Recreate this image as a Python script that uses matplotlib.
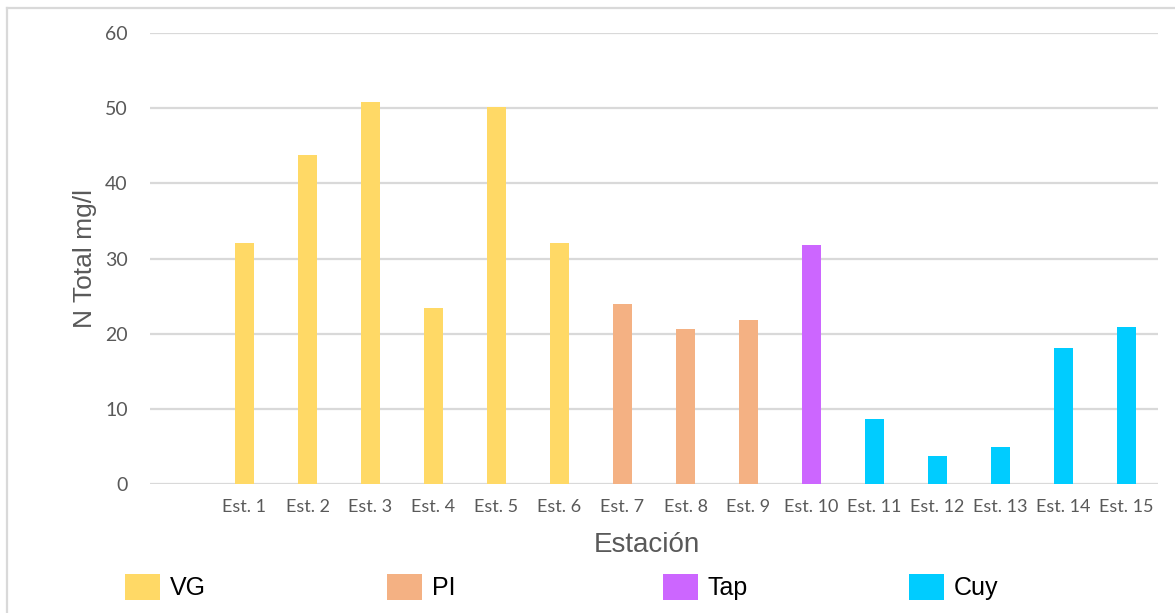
import numpy as np
import matplotlib

matplotlib.use("Agg")
import matplotlib.pyplot as plt
from matplotlib.patches import Patch
from matplotlib.lines import Line2D

# first category is an empty slot, as in the original sheet
estaciones = [""] + ["Est. %d" % i for i in range(1, 16)]
n_total = [np.nan, 32.0, 43.8, 50.8, 23.4, 50.1, 32.0, 23.9, 20.6, 21.8,
           31.8, 8.6, 3.7, 4.9, 18.1, 20.9]
grupo = [None, "VG", "VG", "VG", "VG", "VG", "VG", "PI", "PI", "PI",
         "Tap", "Cuy", "Cuy", "Cuy", "Cuy", "Cuy"]

grupos = ["VG", "PI", "Tap", "Cuy"]
colores = {"VG": "#FFD966", "PI": "#F4B183", "Tap": "#CC66FF", "Cuy": "#00CCFF"}

GRIS = "#595959"
GRID = "#D9D9D9"

fig = plt.figure(figsize=(11.75, 6.13), dpi=100)
W, H = 1175, 613
ax = fig.add_axes([150 / W, 129 / H, 1008 / W, 451 / H])

x = np.arange(len(estaciones))
for xi, v, g in zip(x, n_total, grupo):
    if g is None:
        continue
    ax.bar(xi, v, width=0.31, color=colores[g], zorder=3)

ax.set_xlim(-0.5, len(estaciones) - 0.5)
ax.set_ylim(0, 60)
ax.set_yticks(np.arange(0, 61, 10))
ax.set_xticks(x)
ax.set_xticklabels(estaciones, fontfamily="Lato", fontsize=13, color=GRIS)
ax.tick_params(axis="x", length=0, pad=11)
ax.tick_params(axis="y", length=0, pad=16, labelsize=14, labelcolor=GRIS)
for lbl in ax.get_yticklabels():
    lbl.set_fontfamily("Lato")

ax.grid(axis="y", color=GRID, linewidth=1.6, zorder=0)
for s in ax.spines.values():
    s.set_visible(False)

ax.set_ylabel("N Total mg/l", fontfamily="Liberation Sans", fontsize=19,
              color=GRIS)
ax.yaxis.set_label_coords((97 - 150) / 1008, (613 - 258 - 129) / 451)
ax.set_xlabel("Estación", fontfamily="Liberation Sans", fontsize=20,
              color=GRIS)
ax.xaxis.set_label_coords((647 - 150) / 1008, (613 - 532 - 129) / 451)

# outer chart frame (left and top edges)
fig.add_artist(Line2D([7 / W, 7 / W], [0, 1 - 8 / H], color=GRID, linewidth=1.6))
fig.add_artist(Line2D([7 / W, 1], [1 - 8 / H, 1 - 8 / H], color=GRID, linewidth=1.6))

# one legend box per group, spread along the bottom
leg_x = [125, 387, 663, 909]
for g, lx in zip(grupos, leg_x):
    fig.legend(handles=[Patch(facecolor=colores[g], label=g)],
               loc="center left", bbox_to_anchor=(lx / W, 1 - 587 / H),
               frameon=False, borderpad=0, borderaxespad=0,
               handlelength=1.4, handleheight=1.2, handletextpad=0.4,
               prop={"family": "Liberation Sans", "size": 18})

fig.savefig("out.png", dpi=100, facecolor="white")
